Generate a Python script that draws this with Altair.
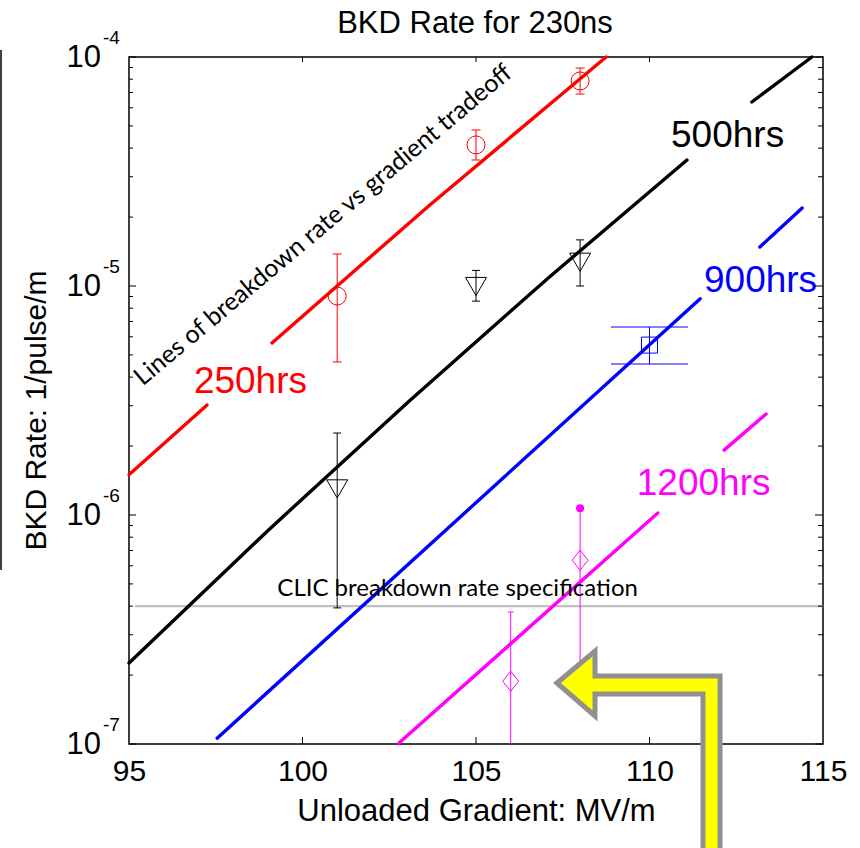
import altair as alt
import pandas as pd

# ---------------- data ----------------
X_DOMAIN = [95, 115]
Y_DOMAIN = [1e-7, 1e-4]

# constant-lifetime lines (segments; gaps where the labels sit)
red_a_x = [95.0, 97.25]
red_a_y = [1.50e-6, 3.02e-6]
red_b_x = [99.12, 103.67, 108.75]
red_b_y = [5.64e-6, 2.26e-5, 1.0e-4]
black_a_x = [95.0, 99.03, 103.07, 107.10, 111.08]
black_a_y = [2.26e-7, 8.63e-7, 3.14e-6, 1.09e-5, 3.55e-5]
black_b_x = [112.95, 114.68]
black_b_y = [6.36e-5, 1.0e-4]
blue_a_x = [97.54, 111.46]
blue_a_y = [1.06e-7, 8.8e-6]
blue_b_x = [113.18, 114.40]
blue_b_y = [1.48e-5, 2.19e-5]
mag_a_x = [102.78, 110.24]
mag_a_y = [1.01e-7, 1.02e-6]
mag_b_x = [112.15, 113.36]
mag_b_y = [1.92e-6, 2.76e-6]

# measurements with error bars
red_pts_x = [101, 105, 108]
red_pts_y = [9.04e-6, 4.13e-5, 7.86e-5]
red_pts_lo = [4.66e-6, 3.55e-5, 6.89e-5]
red_pts_hi = [1.38e-5, 4.80e-5, 8.95e-5]
blk_pts_x = [101, 105, 108]
blk_pts_y = [1.30e-6, 9.95e-6, 1.27e-5]
blk_pts_lo = [3.93e-7, 8.59e-6, 1.0e-5]
blk_pts_hi = [2.28e-6, 1.17e-5, 1.59e-5]
blu_pts_x = [110]
blu_pts_y = [5.52e-6]
blu_pts_lo = [4.56e-6]
blu_pts_hi = [6.62e-6]
mag_pts_x = [106, 108]
mag_pts_y = [1.88e-7, 6.35e-7]
mag_pts_lo = [9.0e-8, 1.7e-7]
mag_pts_hi = [3.77e-7, 1.07e-6]

clic_spec = 4.0e-7
clic_x = [95.17, 115.0]

line_labels = ["250hrs", "500hrs", "900hrs", "1200hrs"]
line_label_x = [98.50, 112.25, 113.20, 111.56]
line_label_y = [3.41e-6, 4.05e-5, 9.42e-6, 1.22e-6]

x_ticks = [95, 100, 105, 110, 115]
y_major = [1e-7, 1e-6, 1e-5, 1e-4]
y_exp = ["-7", "-6", "-5", "-4"]
y_minor = [m * 10.0 ** e for e in (-7, -6, -5) for m in range(2, 10)]

RED, BLACK, BLUE, MAG = "#ff0000", "#000000", "#0000ff", "#ff00ff"
FONT = "Liberation Sans"
FONT2 = "Lato"

# ---------------- tables ----------------
rows = []
for name, col, segs in [
    ("250", RED, [(red_a_x, red_a_y), (red_b_x, red_b_y)]),
    ("500", BLACK, [(black_a_x, black_a_y), (black_b_x, black_b_y)]),
    ("900", BLUE, [(blue_a_x, blue_a_y), (blue_b_x, blue_b_y)]),
    ("1200", MAG, [(mag_a_x, mag_a_y), (mag_b_x, mag_b_y)]),
]:
    for si, (xs_, ys_) in enumerate(segs):
        for i, (a, b) in enumerate(zip(xs_, ys_)):
            rows.append({"series": name, "seg": f"{name}_{si}", "x": a, "y": b, "ord": i, "c": col})
lines_df = pd.DataFrame(rows)

def pts(xs_, ys_, lo, hi, col):
    return pd.DataFrame({"x": xs_, "y": ys_, "lo": lo, "hi": hi, "c": col})

red_df = pts(red_pts_x, red_pts_y, red_pts_lo, red_pts_hi, RED)
blk_df = pts(blk_pts_x, blk_pts_y, blk_pts_lo, blk_pts_hi, BLACK)
blu_df = pts(blu_pts_x, blu_pts_y, blu_pts_lo, blu_pts_hi, BLUE)
mag_df = pts(mag_pts_x, mag_pts_y, mag_pts_lo, mag_pts_hi, MAG)
err_df = pd.concat([red_df, blk_df, blu_df, mag_df], ignore_index=True)

cap_rows = []
for df, w in [(red_df, 9), (blk_df, 8), (blu_df, 77)]:
    for _, r in df.iterrows():
        cap_rows.append({"x": r["x"], "y": r["lo"], "c": r["c"], "w": w})
        cap_rows.append({"x": r["x"], "y": r["hi"], "c": r["c"], "w": w})
cap_rows.append({"x": mag_pts_x[0], "y": mag_pts_hi[0], "c": MAG, "w": 6})
caps_df = pd.DataFrame(cap_rows)
magdot_df = pd.DataFrame({"x": [mag_pts_x[1]], "y": [mag_pts_hi[1]]})

labels_df = pd.DataFrame({"x": line_label_x, "y": line_label_y, "t": line_labels,
                          "c": [RED, BLACK, BLUE, MAG]})
clic_df = pd.DataFrame({"x": [clic_x[0]], "x2": [clic_x[1]], "y": [clic_spec]})
ytick_df = pd.DataFrame({"y": y_major, "base": ["10"] * 4, "exp": y_exp})
yminor_df = pd.DataFrame({"y": y_minor})
xtick_df = pd.DataFrame({"x": [v for v in x_ticks if v not in X_DOMAIN]})
one = pd.DataFrame({"t": ["BKD Rate for 230ns"]})

# ---------------- scales & axes ----------------
xs = alt.Scale(domain=X_DOMAIN, nice=False, zero=False)
ys = alt.Scale(type="log", domain=Y_DOMAIN, nice=False)
xaxis = alt.Axis(values=x_ticks, title="Unloaded Gradient: MV/m", labelFontSize=30,
                 labelFont=FONT, labelColor="black", labelBaseline="alphabetic",
                 labelPadding=36, labelFlush=False, labelOverlap=False,
                 ticks=False, tickSize=0, domain=False, grid=False,
                 titleFontSize=31, titleFont=FONT, titleFontWeight="normal",
                 titleColor="black", titleBaseline="alphabetic", titleY=76)
yaxis = alt.Axis(title="BKD Rate: 1/pulse/m", labels=False, ticks=False, tickSize=0,
                 domain=False, grid=False, titleFontSize=30, titleFont=FONT,
                 titleFontWeight="normal", titleColor="black",
                 titleBaseline="alphabetic", titleX=-84, titleY=353, titleAngle=270)

def X(f="x"):
    return alt.X(f"{f}:Q", scale=xs, axis=xaxis)

def Y(f="y"):
    return alt.Y(f"{f}:Q", scale=ys, axis=yaxis)

# ---------------- layers ----------------
clic_line = alt.Chart(clic_df).mark_rule(color="#c0c0c0", strokeWidth=2.2).encode(
    x=X(), x2="x2:Q", y=Y())

lines = alt.Chart(lines_df).mark_line(strokeWidth=3.4, strokeCap="round",
                                      strokeJoin="round").encode(
    x=X(), y=Y(), color=alt.Color("c:N", scale=None), detail="seg:N", order="ord:Q")

errs = alt.Chart(err_df).mark_rule(strokeWidth=1, clip=True).encode(
    x=X(), y=Y("lo"), y2="hi:Q", color=alt.Color("c:N", scale=None))

caps = alt.Chart(caps_df).mark_tick(orient="horizontal", thickness=1, opacity=1).encode(
    x=X(), y=Y(), color=alt.Color("c:N", scale=None), size=alt.Size("w:Q", scale=None))

red_m = alt.Chart(red_df).mark_point(shape="circle", size=324, filled=False, color=RED,
                                     strokeWidth=1, opacity=1).encode(x=X(), y=Y())
blk_m = alt.Chart(blk_df).mark_point(shape="triangle-down", size=441, filled=False,
                                     color=BLACK, strokeWidth=1, opacity=1).encode(x=X(), y=Y())
blu_m = alt.Chart(blu_df).mark_point(shape="square", size=256, filled=False, color=BLUE,
                                     strokeWidth=1, opacity=1).encode(x=X(), y=Y())
mag_m = alt.Chart(mag_df).mark_point(shape="M0,-1L0.8,0L0,1L-0.8,0Z", size=400, filled=False,
                                     color=MAG, strokeWidth=1, opacity=1).encode(x=X(), y=Y())
mag_dot = alt.Chart(magdot_df).mark_point(shape="circle", size=64, filled=True, color=MAG,
                                          opacity=1).encode(x=X(), y=Y())

clic_text = alt.Chart(clic_df).mark_text(text="CLIC breakdown rate specification", font=FONT2,
                                         fontSize=24, align="center", baseline="alphabetic",
                                         color="black", dy=-10).encode(
    x=alt.X("xm:Q", scale=xs, axis=xaxis), y=Y()).transform_calculate(xm="104.47")

tradeoff = alt.Chart(pd.DataFrame({"x": [100.59], "y": [1.85e-5]})).mark_text(
    text="Lines of breakdown rate vs gradient tradeoff", font=FONT2, fontSize=25, angle=320,
    align="center", baseline="middle", color="black").encode(x=X(), y=Y())

hrs = alt.Chart(labels_df).mark_text(font=FONT, fontSize=37, align="center",
                                     baseline="alphabetic").encode(
    x=X(), y=Y(), text="t:N", color=alt.Color("c:N", scale=None))

# axis decorations: inward ticks, y labels with exponents
tl_major = alt.Chart(ytick_df).mark_rule(color="black", strokeWidth=1).encode(
    y=Y(), x=alt.value(0), x2=alt.value(7))
tr_major = alt.Chart(ytick_df).mark_rule(color="black", strokeWidth=1).encode(
    y=Y(), x=alt.value(694), x2=alt.value(686))
tl_minor = alt.Chart(yminor_df).mark_rule(color="black", strokeWidth=1).encode(
    y=Y(), x=alt.value(0), x2=alt.value(4))
tr_minor = alt.Chart(yminor_df).mark_rule(color="black", strokeWidth=1).encode(
    y=Y(), x=alt.value(694), x2=alt.value(689))
tt = alt.Chart(xtick_df).mark_rule(color="black", strokeWidth=1).encode(
    x=X(), y=alt.value(0), y2=alt.value(5))
tb = alt.Chart(xtick_df).mark_rule(color="black", strokeWidth=1).encode(
    x=X(), y=alt.value(687), y2=alt.value(680))

ybase = alt.Chart(ytick_df).mark_text(font=FONT, fontSize=31, align="right",
                                      baseline="middle", color="black", dy=1).encode(
    y=Y(), x=alt.value(-28), text="base:N")
yexp = alt.Chart(ytick_df).mark_text(font=FONT, fontSize=19, align="left",
                                     baseline="middle", color="black", dy=-19).encode(
    y=Y(), x=alt.value(-26), text="exp:N")

title = alt.Chart(one).mark_text(font=FONT, fontSize=31, align="center",
                                 baseline="alphabetic", color="black").encode(
    text="t:N", x=alt.value(346), y=alt.value(-24))

edge = alt.Chart(one).mark_rule(color="#404040", strokeWidth=2).encode(
    x=alt.value(-128), y=alt.value(-7), y2=alt.value(513))

ARROW = ("M-0.692,-0.642L-0.375,-0.908L-0.375,-0.700L0.667,-0.700L0.667,0.917"
         "L0.525,0.917L0.525,-0.550L-0.375,-0.550L-0.375,-0.367Z")
arrow = alt.Chart(one).mark_point(shape=ARROW, size=57600, filled=True, fill="#ffff00",
                                  stroke="#909090", strokeWidth=5, opacity=1,
                                  strokeJoin="miter").encode(
    x=alt.value(511), y=alt.value(703))

chart = alt.layer(
    clic_line, lines, errs, caps, red_m, blk_m, blu_m, mag_m, mag_dot,
    clic_text, tradeoff, hrs,
    tl_major, tr_major, tl_minor, tr_minor, tt, tb, ybase, yexp, title, edge, arrow
).properties(
    width=694, height=687,
    autosize=alt.AutoSizeParams(type="none"),
    padding={"left": 129, "top": 57, "right": 37, "bottom": 104},
    background="white",
).configure_view(stroke="black", strokeWidth=1.5)

chart.save("out.html", embed_options={"renderer": "svg", "actions": False})
